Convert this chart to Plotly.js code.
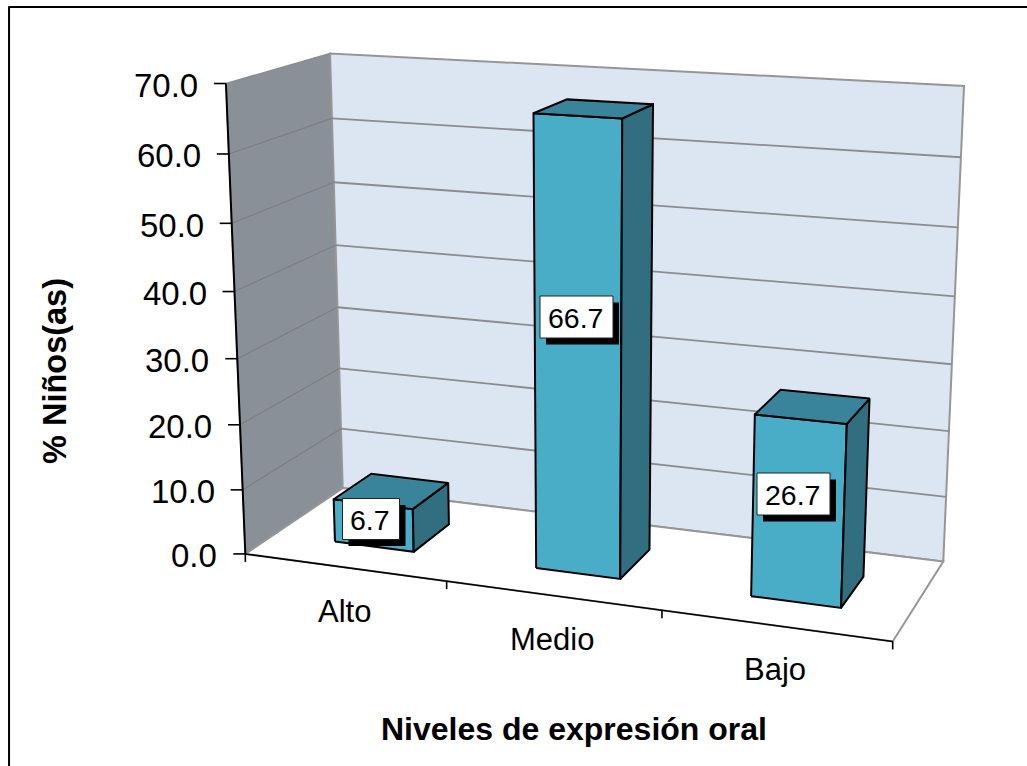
<!DOCTYPE html>
<html><head><meta charset="utf-8">
<script src="https://cdn.plot.ly/plotly-3.0.1.min.js"></script>
<style>html,body{margin:0;padding:0;background:#fff}#c{width:1027px;height:766px}</style></head>
<body><div id="c"></div>
<script>
const categories = ["Alto","Medio","Bajo"];
const values = [6.7,66.7,26.7];
const valueTicks = [0,10,20,30,40,50,60,70];
const yAxisTitle = "% Niños(as)";
const xAxisTitle = "Niveles de expresión oral";
const FONT = "Liberation Sans, Arial, sans-serif";
const C = {front:"#4AADC8", top:"#3A849B", side:"#316F80", wall:"#DCE6F2", left:"#8A9098", grid:"#8C8C8C", line:"#000"};

// Camera: projective map fitted to the box's corners (cat 0..1, val 0..1, depth 0..1) -> page pixels
const corners = [
 [0,0,0,245,553],[1,0,0,893,642],[0,0,1,343,489],[1,0,1,943,561],
 [0,1,0,226,84],[0,1,1,330,53],[1,1,1,964,86]];
function solve(A,b){const n=b.length;const M=A.map((r,i)=>[...r,b[i]]);
 for(let i=0;i<n;i++){let p=i;for(let k=i+1;k<n;k++)if(Math.abs(M[k][i])>Math.abs(M[p][i]))p=k;[M[i],M[p]]=[M[p],M[i]];
  for(let k=0;k<n;k++)if(k!==i){const f=M[k][i]/M[i][i];for(let j=i;j<=n;j++)M[k][j]-=f*M[i][j];}}
 return M.map((r,i)=>r[n]/r[i]);}
const rows=[],rhs=[];
corners.forEach(([x,y,z,px,py])=>{
 rows.push([x,y,z,1,0,0,0,0,-px*x,-px*y,-px*z]);rhs.push(px);
 rows.push([0,0,0,0,x,y,z,1,-py*x,-py*y,-py*z]);rhs.push(py);});
const N=Array.from({length:11},(_,i)=>Array.from({length:11},(_,j)=>rows.reduce((s,r)=>s+r[i]*r[j],0)));
const Nb=Array.from({length:11},(_,i)=>rows.reduce((s,r,k)=>s+r[i]*rhs[k],0));
const h=solve(N,Nb);
function P(x,y,z){const w=h[8]*x+h[9]*y+h[10]*z+1;return [(h[0]*x+h[1]*y+h[2]*z+h[3])/w,(h[4]*x+h[5]*y+h[6]*z+h[7])/w];}
const VMAX=70;
function poly(pts,fill,lc,lw){const q=pts.map(p=>P(...p));q.push(q[0]);
 return {type:"scatter",mode:"lines",x:q.map(a=>a[0]),y:q.map(a=>a[1]),fill:"toself",fillcolor:fill,
  line:{color:lc||fill,width:lw===undefined?1:lw},hoverinfo:"skip",showlegend:false};}
function seg(a,b,c,w){const p=P(...a),q=P(...b);return {type:"scatter",mode:"lines",x:[p[0],q[0]],y:[p[1],q[1]],line:{color:c,width:w},hoverinfo:"skip",showlegend:false};}
function tickSeg(p,dx,dy,c,w){return {type:"scatter",mode:"lines",x:[p[0],p[0]+dx],y:[p[1],p[1]+dy],line:{color:c,width:w},hoverinfo:"skip",showlegend:false};}

const traces=[];
traces.push(poly([[0,0,0],[0,1,0],[0,1,1],[0,0,1]],C.left,C.grid,1.5));
traces.push(poly([[0,0,1],[1,0,1],[1,1,1],[0,1,1]],C.wall,"#969696",2));
traces.push(poly([[0,0,0],[1,0,0],[1,0,1],[0,0,1]],"#ffffff","#969696",2));
valueTicks.slice(1,-1).forEach(v=>{const t=v/VMAX;
 traces.push(seg([0,t,0],[0,t,1],"#7E7E7E",1.2));
 traces.push(seg([0,t,1],[1,t,1],C.grid,1.8));});
// axis lines + ticks
traces.push(seg([0,0,0],[0,1,0],C.line,2));
traces.push(seg([0,0,0],[1,0,0],C.line,1.6));
valueTicks.forEach(v=>traces.push(tickSeg(P(0,v/VMAX,0),-12,0,C.line,1.6)));
[0,1,2,3].forEach(i=>traces.push(tickSeg(P(i/3,0,0),0,8,C.line,1.6)));
// bars
const barHalf=0.0665, zF=0.29, zB=0.69;
const centers=[0,1,2].map(i=>(i+.5)/3);
const barShift=0.003;
values.forEach((v,i)=>{const t=v/VMAX,a=centers[i]+barShift-barHalf,b=centers[i]+barShift+barHalf;
 traces.push(poly([[a,0,zF],[b,0,zF],[b,t,zF],[a,t,zF]],C.front,"#000",2));
 traces.push(poly([[b,0,zF],[b,0,zB],[b,t,zB],[b,t,zF]],C.side,"#000",2));
 traces.push(poly([[a,t,zF],[b,t,zF],[b,t,zB],[a,t,zB]],C.top,"#000",2));
});
const ann=[];
function txt(x,y,text,size,extra){ann.push(Object.assign({xref:"x",yref:"y",x,y,text,showarrow:false,font:{family:FONT,size,color:"#000"}},extra||{}));}
valueTicks.forEach(v=>{const p=P(0,v/VMAX,0);txt(p[0]-26,p[1]+2,v.toFixed(1),33,{xanchor:"right",yanchor:"middle"});});
categories.forEach((c,i)=>{const m=P(centers[i],0,0);txt(m[0],m[1]+44,c,31,{yanchor:"middle"});});
txt(574,729,"<b>"+xAxisTitle+"</b>",32,{yanchor:"middle"});
txt(55,371,"<b>"+yAxisTitle+"</b>",32.5,{textangle:-90,yanchor:"middle"});
const shapes=[];
const labelBoxes=[[371,519,57,41],[576.5,317,73,42],[793.5,494,73,42]];
values.forEach((v,i)=>{const [x,y,w,hh]=labelBoxes[i];
 shapes.push({type:"rect",xref:"x",yref:"y",x0:x-w/2+6,x1:x+w/2+6,y0:y-hh/2+6.5,y1:y+hh/2+6.5,fillcolor:"#000",line:{width:0},layer:"above"});
 shapes.push({type:"rect",xref:"x",yref:"y",x0:x-w/2,x1:x+w/2,y0:y-hh/2,y1:y+hh/2,fillcolor:"#fff",line:{width:1,color:"#222"},layer:"above"});
 txt(x-1,y+1,v.toFixed(1),28.5,{yanchor:"middle"});
});
// chart frame
shapes.push({type:"line",xref:"paper",yref:"paper",x0:0.0088,x1:0.0088,y0:0,y1:0.992,line:{color:"#000",width:2}});
shapes.push({type:"line",xref:"paper",yref:"paper",x0:0.0088,x1:1,y0:0.991,y1:0.991,line:{color:"#000",width:2}});
const layout={width:1027,height:766,margin:{l:0,r:0,t:0,b:0},paper_bgcolor:"#fff",plot_bgcolor:"#fff",showlegend:false,
 xaxis:{range:[0,1027],visible:false,fixedrange:true},yaxis:{range:[766,0],visible:false,fixedrange:true},annotations:ann,shapes};
Plotly.newPlot("c",traces,layout,{displayModeBar:false,staticPlot:true});
</script></body></html>
